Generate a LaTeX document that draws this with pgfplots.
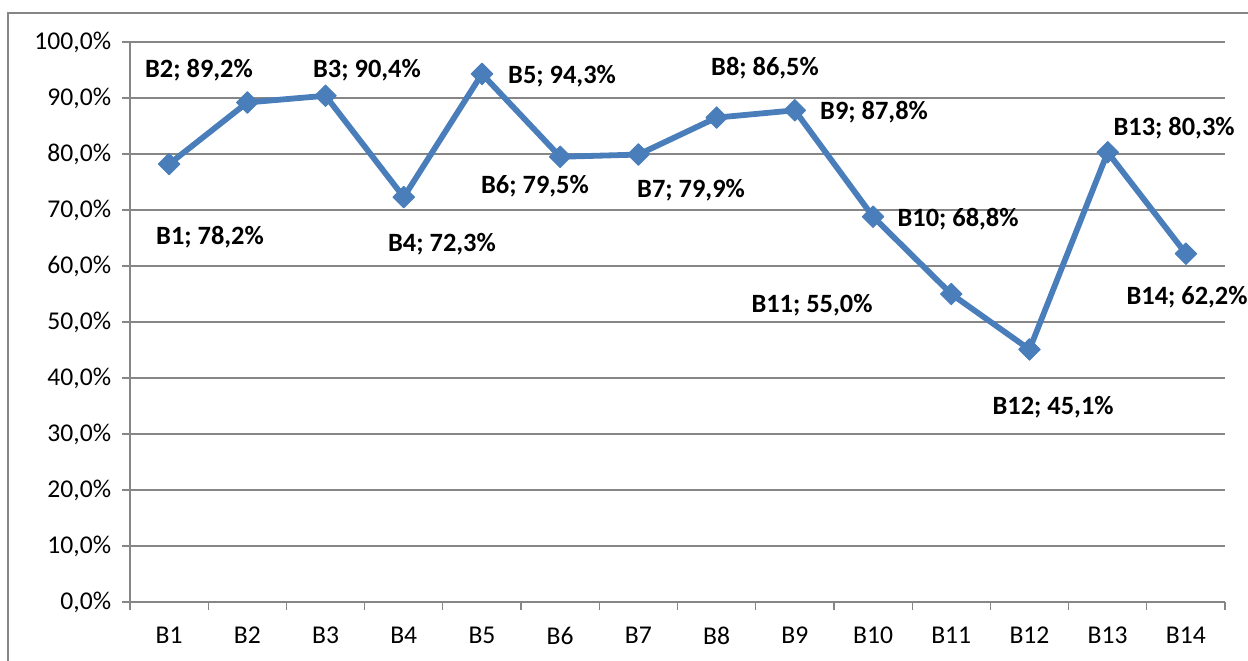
\documentclass[border=0pt]{standalone}
\usepackage{fontspec}
\setmainfont{Carlito}
\usepackage{pgfplots}
\pgfplotsset{compat=1.18}
\definecolor{ser}{HTML}{4A7EBB}
\definecolor{gridc}{HTML}{868686}
\begin{document}
\fontsize{12.8bp}{15bp}\selectfont
\begin{tikzpicture}
\useasboundingbox (-65bp,-29.5bp) rectangle (559bp,301bp);
\draw[gridc, line width=0.6bp] (-61bp,-40bp) -- (-61bp,294.5bp) -- (570bp,294.5bp);
\begin{axis}[
  at={(0,0)}, anchor=south west,
  scale only axis,
  width=547.5bp, height=280bp,
  xmin=0.5, xmax=14.5, ymin=0, ymax=100,
  clip=false,
  axis lines*=left,
  axis line style={gridc, line width=0.6bp},
  xtick={1,...,14},
  xticklabels={B1,B2,B3,B4,B5,B6,B7,B8,B9,B10,B11,B12,B13,B14},
  minor xtick={0.5,1.5,...,14.5},
  major x tick style={draw=none},
  minor tick length=4bp,
  minor x tick style={gridc, line width=0.6bp},
  ytick={0,10,...,100},
  yticklabels={{0,0\%},{10,0\%},{20,0\%},{30,0\%},{40,0\%},{50,0\%},{60,0\%},{70,0\%},{80,0\%},{90,0\%},{100,0\%}},
  major tick length=4bp,
  tick align=outside,
  y tick style={gridc, line width=0.6bp},
  ymajorgrids,
  grid style={gridc, line width=0.6bp},
  tick label style={font=\fontsize{12.8bp}{15bp}\selectfont},
  xticklabel style={yshift=-4bp},
  yticklabel style={xshift=-1bp},
]
\addplot[ser, line width=2.9bp, line join=round, mark=square*, mark size=3.8bp,
  mark options={rotate=45, fill=ser, draw=ser, line width=0.5bp}]
  coordinates {(1,78.2) (2,89.2) (3,90.4) (4,72.3) (5,94.3) (6,79.5) (7,79.9)
    (8,86.5) (9,87.8) (10,68.8) (11,55.0) (12,45.1) (13,80.3) (14,62.2)};
\begin{scope}[every node/.style={font=\bfseries\fontsize{13.2bp}{15bp}\selectfont, inner sep=0pt}]
\node at (axis cs:1.523,65.2) {B1; 78,2\%};
\node at (axis cs:1.382,95.0) {B2; 89,2\%};
\node at (axis cs:3.530,95.0) {B3; 90,4\%};
\node at (axis cs:4.489,63.9) {B4; 72,3\%};
\node at (axis cs:6.024,93.9) {B5; 94,3\%};
\node at (axis cs:5.678,74.3) {B6; 79,5\%};
\node at (axis cs:7.673,73.6) {B7; 79,9\%};
\node at (axis cs:8.619,95.4) {B8; 86,5\%};
\node at (axis cs:10.013,87.5) {B9; 87,8\%};
\node at (axis cs:11.087,68.4) {B10; 68,8\%};
\node at (axis cs:9.220,53.0) {B11; 55,0\%};
\node at (axis cs:12.302,34.8) {B12; 45,1\%};
\node at (axis cs:13.849,84.6) {B13; 80,3\%};
\node at (axis cs:14.015,54.5) {B14; 62,2\%};
\end{scope}
\end{axis}
\end{tikzpicture}
\end{document}
